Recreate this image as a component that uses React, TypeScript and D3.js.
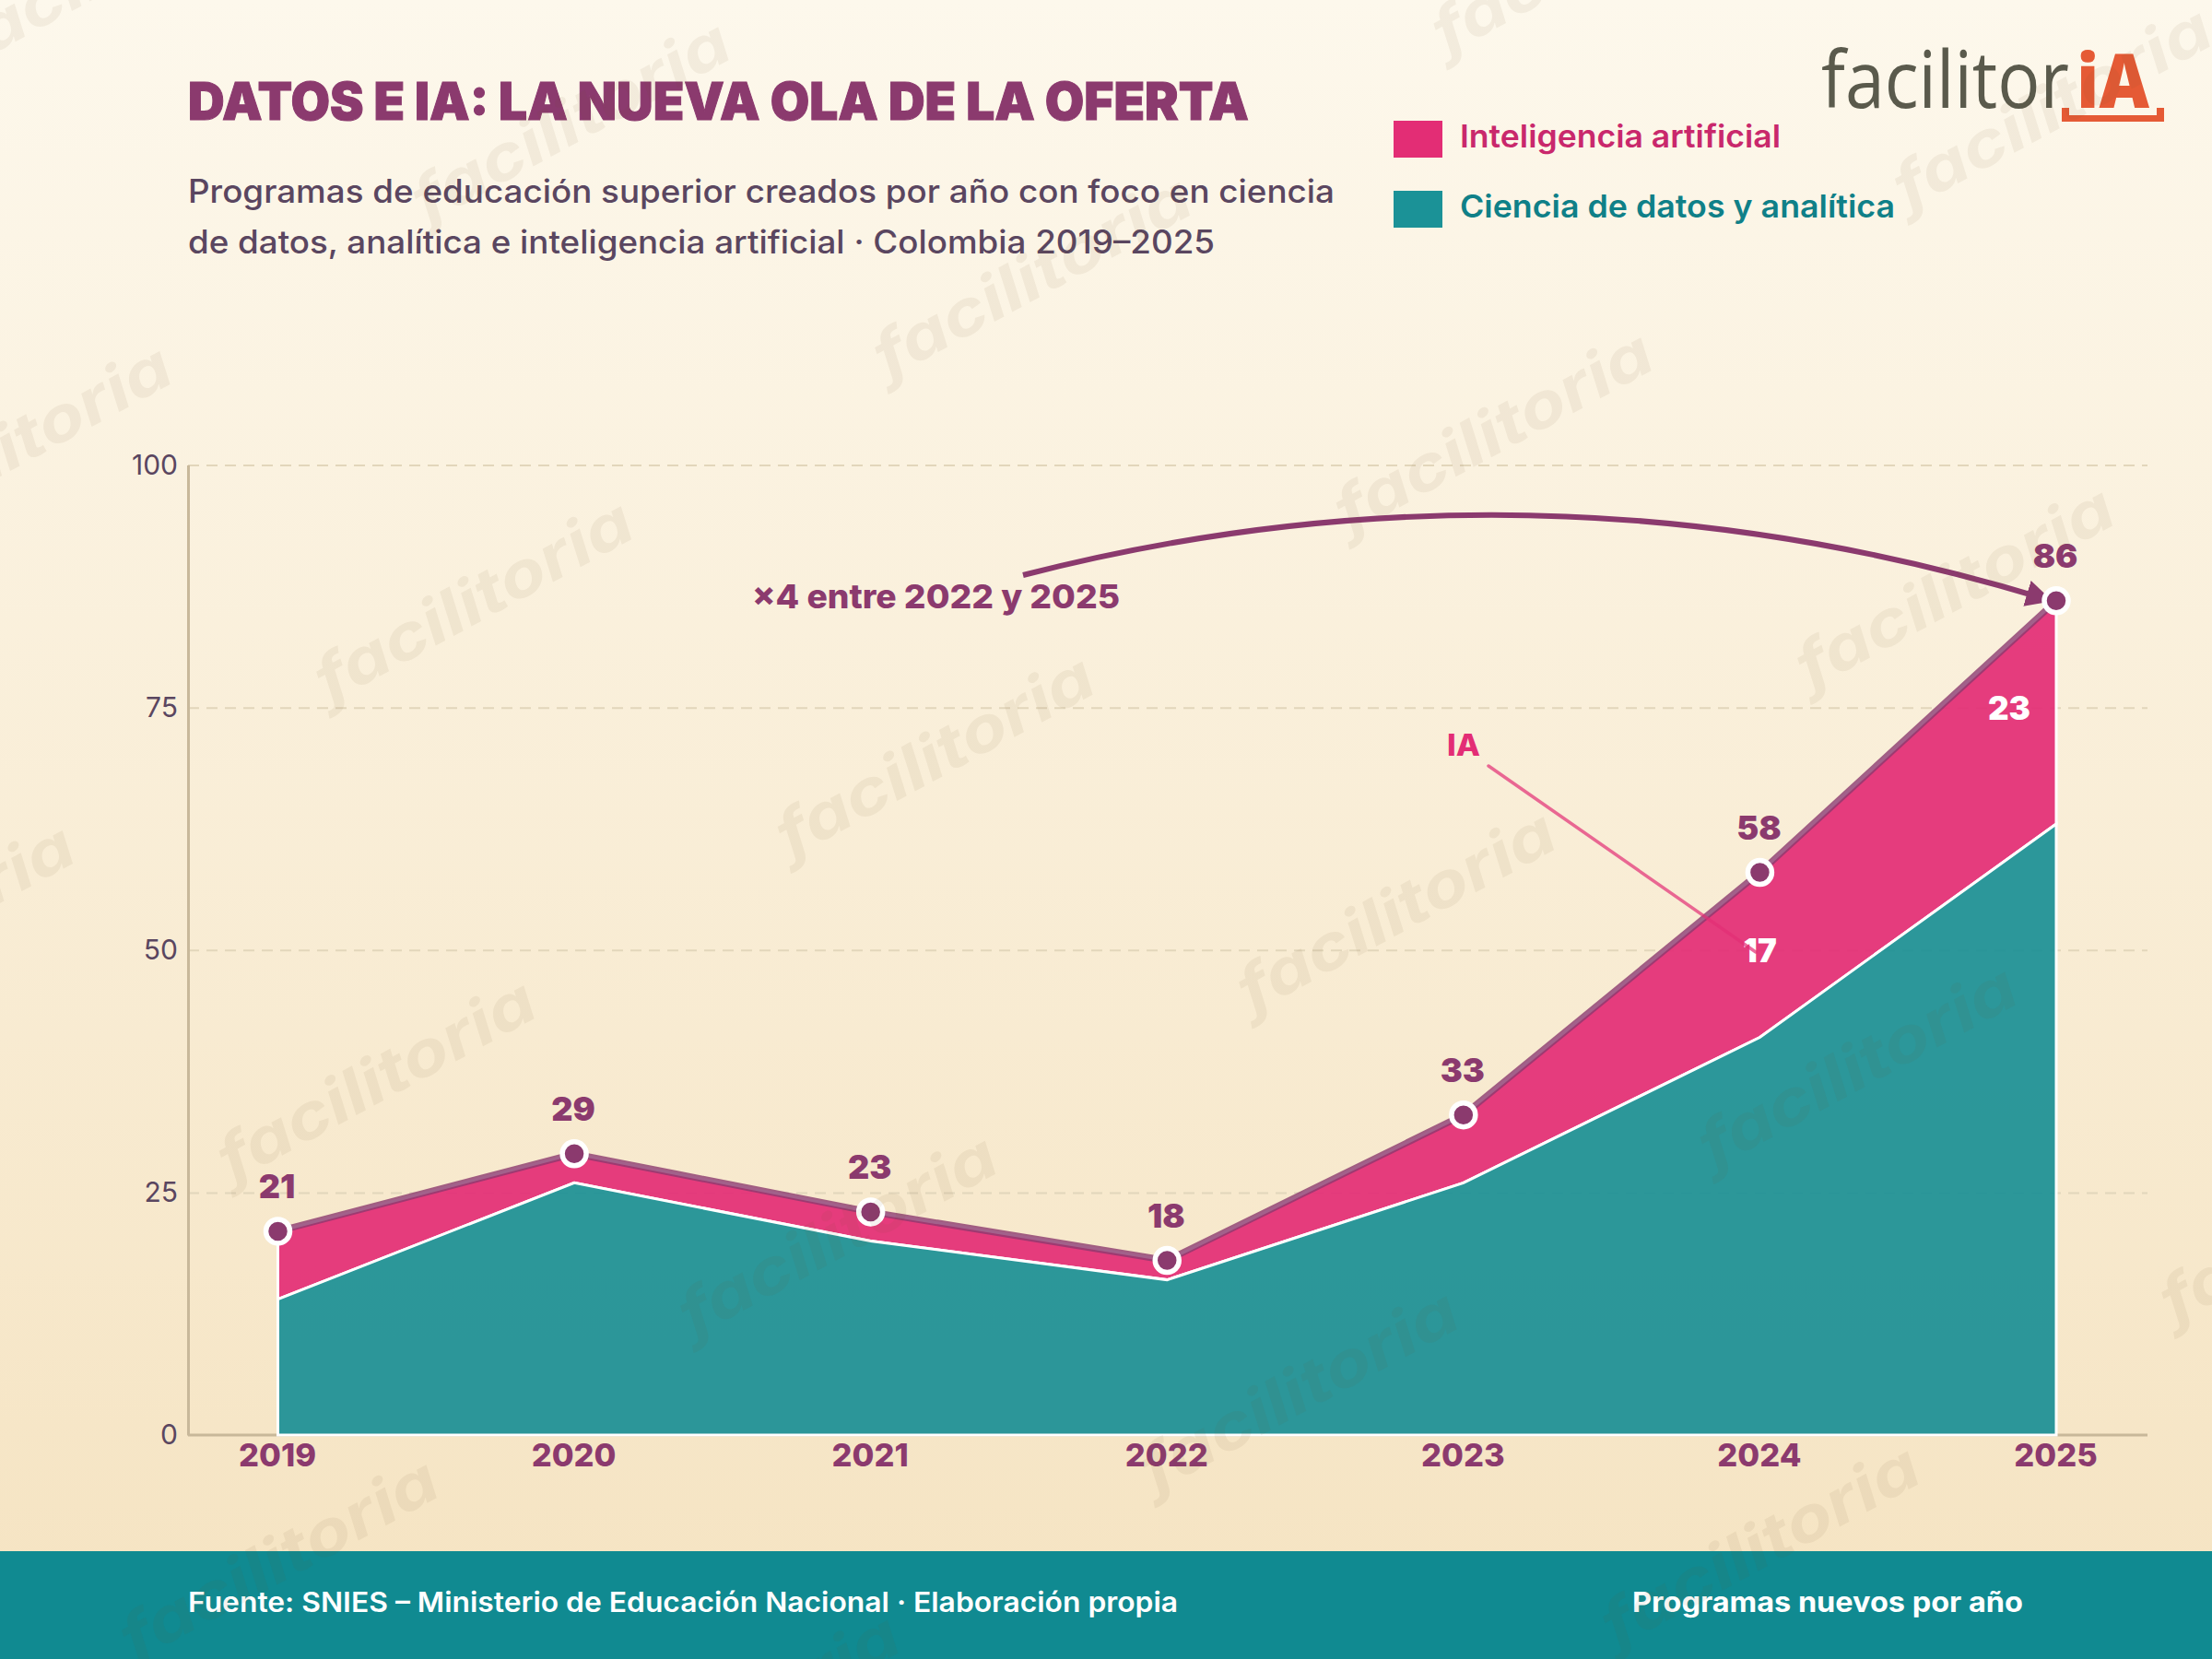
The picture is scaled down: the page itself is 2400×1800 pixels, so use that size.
import * as d3 from 'd3';
import React, { useEffect, useRef } from 'react';

const years = ['2019', '2020', '2021', '2022', '2023', '2024', '2025'];
const datos = [14, 26, 20, 16, 26, 41, 63];
const ia = [7, 3, 3, 2, 7, 17, 23];
const yTicks = [0, 25, 50, 75, 100];
const bandLabelYears = ['2024', '2025'];

const PURPLE = '#8b3a6e';
const INK = '#5a4660';
const PINK = '#e32d75';
const TEAL = '#1a8f95';
const FONT = 'Inter, sans-serif';

const App: React.FC = () => {
  const svgRef = useRef<SVGSVGElement>(null);

  useEffect(() => {
    if (!svgRef.current) return;
    const svg = d3.select(svgRef.current);
    svg.selectAll('*').remove();

    const x = d3.scalePoint<string>().domain(years).range([301.5, 2231]);
    const y = d3.scaleLinear().domain([0, 100]).range([1557, 504.5]);
    const left = 204;
    const right = 2330;

    const rows = years.map((year, i) => ({ year, datos: datos[i], ia: ia[i] }));
    const stacked = d3.stack<any>().keys(['datos', 'ia'])(rows);
    const totals = rows.map(d => d.datos + d.ia);

    const text = (
      t: string, px: number, py: number, size: number, weight: number, fill: string,
      anchor = 'start', len?: number,
    ) => {
      const el = svg.append('text')
        .attr('x', px).attr('y', py)
        .attr('font-family', FONT)
        .attr('font-size', size)
        .attr('font-weight', weight)
        .attr('fill', fill)
        .attr('text-anchor', anchor)
        .text(t);
      if (len) el.attr('textLength', len).attr('lengthAdjust', 'spacingAndGlyphs');
      return el;
    };

    // background
    const defs = svg.append('defs');
    const grad = defs.append('linearGradient').attr('id', 'bg')
      .attr('x1', 0).attr('y1', 0).attr('x2', 0).attr('y2', 1);
    grad.append('stop').attr('offset', '0%').attr('stop-color', '#fdf8ec');
    grad.append('stop').attr('offset', '100%').attr('stop-color', '#f5e3c1');
    defs.append('marker').attr('id', 'arrow')
      .attr('viewBox', '0 0 10 10').attr('refX', 6).attr('refY', 5)
      .attr('markerWidth', 4.8).attr('markerHeight', 4.8)
      .attr('orient', 'auto')
      .append('path').attr('d', 'M0,0L10,5L0,10Z').attr('fill', PURPLE);

    svg.append('rect').attr('width', 2400).attr('height', 1800).attr('fill', 'url(#bg)');

    // title block
    text('DATOS E IA: LA NUEVA OLA DE LA OFERTA', 204, 130, 56, 900, PURPLE, 'start', 1151)
      .attr('stroke', PURPLE).attr('stroke-width', 1);
    text('Programas de educación superior creados por año con foco en ciencia', 204, 220, 35, 500, INK, 'start', 1244);
    text('de datos, analítica e inteligencia artificial · Colombia 2019–2025', 204, 275, 35, 500, INK, 'start', 1114);

    // legend
    svg.append('rect').attr('x', 1512).attr('y', 131).attr('width', 53).attr('height', 40).attr('fill', PINK);
    svg.append('rect').attr('x', 1512).attr('y', 207).attr('width', 53).attr('height', 40).attr('fill', '#1b9297');
    text('Inteligencia artificial', 1584, 160, 34, 600, '#c9286c', 'start', 348);
    text('Ciencia de datos y analítica', 1584, 236, 34, 600, '#0f8088', 'start', 472);

    // logo
    text('facilitor', 1976, 117, 86, 400, '#5a5a4c', 'start', 269).attr('font-family', '"Open Sans", sans-serif');
    text('iA', 2253, 117, 82, 800, '#e55a35', 'start', 79).attr('font-family', '"Open Sans", sans-serif');
    svg.append('path').attr('d', 'M2237,117V132H2348V117H2340V125H2245V117Z').attr('fill', '#e55a35');

    // grid
    const grid = svg.append('g')
      .attr('transform', `translate(${left},0)`)
      .call(d3.axisLeft(y).tickValues(yTicks.filter(d => d > 0)).tickSize(-(right - left)).tickFormat(() => ''));
    grid.select('.domain').remove();
    grid.selectAll('line')
      .attr('stroke', '#e2d6bb').attr('stroke-width', 2).attr('stroke-dasharray', '12 8');

    // axes
    const yAxis = svg.append('g')
      .attr('transform', `translate(${left},0)`)
      .call(d3.axisLeft(y).tickValues(yTicks).tickSize(0).tickPadding(11));
    yAxis.select('.domain').attr('stroke', '#c8b89a').attr('stroke-width', 3);
    yAxis.selectAll('text')
      .attr('font-family', FONT).attr('font-size', 30).attr('font-weight', 400).attr('fill', INK);

    const xAxis = svg.append('g')
      .attr('transform', `translate(0,${y(0)})`)
      .call(d3.axisBottom(x).tickSize(0).tickPadding(10));
    xAxis.select('.domain').remove();
    xAxis.selectAll('text')
      .attr('font-family', FONT).attr('font-size', 34.5).attr('font-weight', 800).attr('fill', PURPLE)
      .attr('dx', -1);
    svg.append('line')
      .attr('x1', left).attr('x2', right).attr('y1', y(0)).attr('y2', y(0))
      .attr('stroke', '#c8b89a').attr('stroke-width', 3);

    // stacked areas
    const area = d3.area<any>()
      .x(d => x(d.data.year)!)
      .y0(d => y(d[0]))
      .y1(d => y(d[1]));
    const fills = [TEAL, PINK];
    [1, 0].forEach(i => {
      svg.append('path')
        .datum(stacked[i])
        .attr('d', area)
        .attr('fill', fills[i])
        .attr('fill-opacity', 0.92)
        .attr('stroke', '#fff')
        .attr('stroke-width', 3);
    });

    const totalLine = d3.line<number>()
      .x((_, i) => x(years[i])!)
      .y(d => y(d));
    svg.append('path')
      .datum(totals)
      .attr('d', totalLine)
      .attr('fill', 'none')
      .attr('stroke', PURPLE)
      .attr('stroke-opacity', 0.8)
      .attr('stroke-width', 7);

    // labels inside the IA band
    rows.filter(d => bandLabelYears.includes(d.year)).forEach(d => {
      const last = d.year === years[years.length - 1];
      text(String(d.ia), x(d.year)! - (last ? 51 : 0), y(d.datos + d.ia / 2) + 8, 35, 900, '#fff', 'middle');
    });

    // IA callout
    text('IA', 1588, 820, 33, 800, PINK, 'middle', 36);
    svg.append('line')
      .attr('x1', 1615).attr('y1', 831).attr('x2', 1905).attr('y2', 1033)
      .attr('stroke', PINK).attr('stroke-opacity', 0.7).attr('stroke-width', 3.5).attr('stroke-linecap', 'round');

    // growth arrow
    const ex = x('2025')! - 15;
    const ey = y(86) - 3;
    svg.append('path')
      .attr('d', `M1110,624Q1663,482 ${ex},${ey}`)
      .attr('fill', 'none')
      .attr('stroke', PURPLE)
      .attr('stroke-width', 6)
      .attr('marker-end', 'url(#arrow)');
    text('×4 entre 2022 y 2025', 816, 660, 36, 800, PURPLE, 'start', 399);

    // totals: points and labels
    rows.forEach((d, i) => {
      svg.append('circle')
        .attr('cx', x(d.year)!).attr('cy', y(totals[i]))
        .attr('r', 13)
        .attr('fill', PURPLE).attr('stroke', '#fff').attr('stroke-width', 5.5);
      text(String(totals[i]), x(d.year)! - 1, y(totals[i]) - 36, 36, 900, PURPLE, 'middle');
    });

    // footer
    svg.append('rect').attr('x', 0).attr('y', 1683).attr('width', 2400).attr('height', 117).attr('fill', '#108a91');
    text('Fuente: SNIES – Ministerio de Educación Nacional · Elaboración propia', 204, 1749, 30, 600, '#fff', 'start', 1074);
    text('Programas nuevos por año', 1771, 1749, 30, 700, '#fff', 'start', 424);

    // watermark lattice
    const wm = svg.append('g').attr('pointer-events', 'none');
    for (let i = -5; i <= 6; i++) {
      for (let j = -3; j <= 4; j++) {
        const wx = 516 + i * 500.5 - j * 105.6;
        const wy = 656 + i * 168.4 + j * 520;
        if (wx < -250 || wx > 2650 || wy < -150 || wy > 1950) continue;
        wm.append('text')
          .attr('transform', `translate(${wx},${wy}) rotate(-28.5)`)
          .attr('text-anchor', 'middle')
          .attr('dominant-baseline', 'middle')
          .attr('font-family', FONT)
          .attr('font-size', 68)
          .attr('font-weight', 700)
          .attr('font-style', 'italic')
          .attr('fill', '#6b5530')
          .attr('fill-opacity', 0.07)
          .attr('textLength', 382)
          .attr('lengthAdjust', 'spacingAndGlyphs')
          .text('facilitoria');
      }
    }
  }, []);

  return (
    <svg
      ref={svgRef}
      width={2400}
      height={1800}
      viewBox="0 0 2400 1800"
      style={{ position: 'absolute', top: 0, left: 0, display: 'block' }}
    />
  );
};

export default App;
